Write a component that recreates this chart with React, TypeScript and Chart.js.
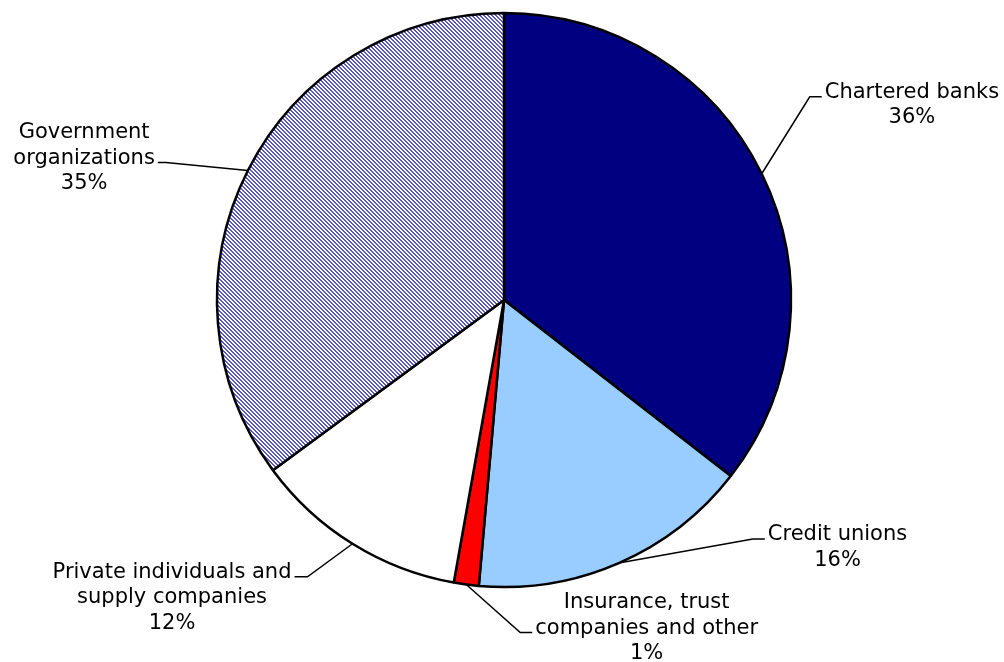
import React, { useEffect, useRef } from "react";
import { Chart, registerables } from "chart.js";

Chart.register(...registerables);

// ---- data ----
const categories = [
  "Chartered banks",
  "Credit unions",
  "Insurance, trust\ncompanies and other",
  "Private individuals and\nsupply companies",
  "Government\norganizations",
];
const shares = [35.5, 15.9, 1.4, 12.1, 35.1];
const sliceColors = ["#000080", "#99CCFF", "#FF0000", "#FFFFFF", "hatch"];

// ---- label layout (leader elbow offset from slice edge, side, stub length, attach line) ----
const labelLayout = [
  { dx: 48, dy: -77, side: 1, stub: 12, attach: 0 },
  { dx: 134, dy: -24, side: 1, stub: 12, attach: 0 },
  { dx: 54, dy: 48, side: 1, stub: 12, attach: 1 },
  { dx: -45, dy: 33, side: -1, stub: 13, attach: 0 },
  { dx: -82, dy: -8, side: -1, stub: 8, attach: 1 },
];

const FONT = '21px "DejaVu Sans", Verdana, sans-serif';
const LINE_H = 25.5;
const GAP = 3;

function makeHatch(): CanvasPattern | string {
  const tile = document.createElement("canvas");
  tile.width = 4;
  tile.height = 4;
  const t = tile.getContext("2d");
  if (!t) return "#9999cc";
  t.fillStyle = "#ffffff";
  t.fillRect(0, 0, 4, 4);
  t.fillStyle = "rgb(88,88,190)";
  for (let i = 0; i < 4; i++) {
    t.fillRect(i, i, 1, 1);
    t.fillRect((i + 1) % 4, i, 1, 1);
  }
  const main = document.createElement("canvas").getContext("2d");
  const p = main ? main.createPattern(tile, "repeat") : null;
  return p || "#9999cc";
}

const labelPlugin = {
  id: "pieLabels",
  afterDatasetsDraw(chart: any) {
    const ctx = chart.ctx as CanvasRenderingContext2D;
    const meta = chart.getDatasetMeta(0);
    const total = shares.reduce((a, b) => a + b, 0);
    ctx.save();
    ctx.font = FONT;
    ctx.fillStyle = "#000000";
    ctx.strokeStyle = "#000000";
    ctx.lineWidth = 1.5;
    ctx.textAlign = "center";
    ctx.textBaseline = "alphabetic";
    meta.data.forEach((arc: any, i: number) => {
      const { x, y, startAngle, endAngle, outerRadius } = arc.getProps(
        ["x", "y", "startAngle", "endAngle", "outerRadius"],
        true
      );
      const mid = (startAngle + endAngle) / 2;
      const ex = x + Math.cos(mid) * outerRadius;
      const ey = y + Math.sin(mid) * outerRadius;
      const L = labelLayout[i];
      const bx = ex + L.dx;
      const by = ey + L.dy;
      const sx = bx + L.side * L.stub;
      ctx.beginPath();
      ctx.moveTo(ex, ey);
      ctx.lineTo(bx, by);
      ctx.lineTo(sx, by);
      ctx.stroke();
      const pct = Math.round((shares[i] / total) * 100) + "%";
      const lines = [...categories[i].split("\n"), pct];
      const w = Math.max(...lines.map((s) => ctx.measureText(s).width));
      const cx = L.side > 0 ? sx + GAP + w / 2 : sx - GAP - w / 2;
      lines.forEach((s, k) => {
        ctx.fillText(s, cx, by + (k - L.attach) * LINE_H + 1);
      });
    });
    ctx.restore();
  },
};

export default function App() {
  const ref = useRef<HTMLCanvasElement | null>(null);
  useEffect(() => {
    if (!ref.current) return;
    const hatch = makeHatch();
    const colors = sliceColors.map((c) => (c === "hatch" ? hatch : c));
    const chart = new Chart(ref.current, {
      type: "pie",
      data: {
        labels: categories,
        datasets: [
          {
            data: shares,
            backgroundColor: colors as any,
            borderColor: "#000000",
            borderWidth: 2.5,
          },
        ],
      },
      options: {
        animation: false,
        responsive: false,
        radius: 287,
        layout: { padding: { left: 217, right: 213, top: 13, bottom: 75 } },
        plugins: {
          legend: { display: false },
          tooltip: { enabled: false },
        },
      } as any,
      plugins: [labelPlugin],
    });
    return () => chart.destroy();
  }, []);
  return (
    <div
      style={{
        position: "absolute",
        left: 0,
        top: 0,
        width: 1004,
        height: 662,
        background: "#ffffff",
      }}
    >
      <canvas ref={ref} width={1004} height={662} />
    </div>
  );
}
